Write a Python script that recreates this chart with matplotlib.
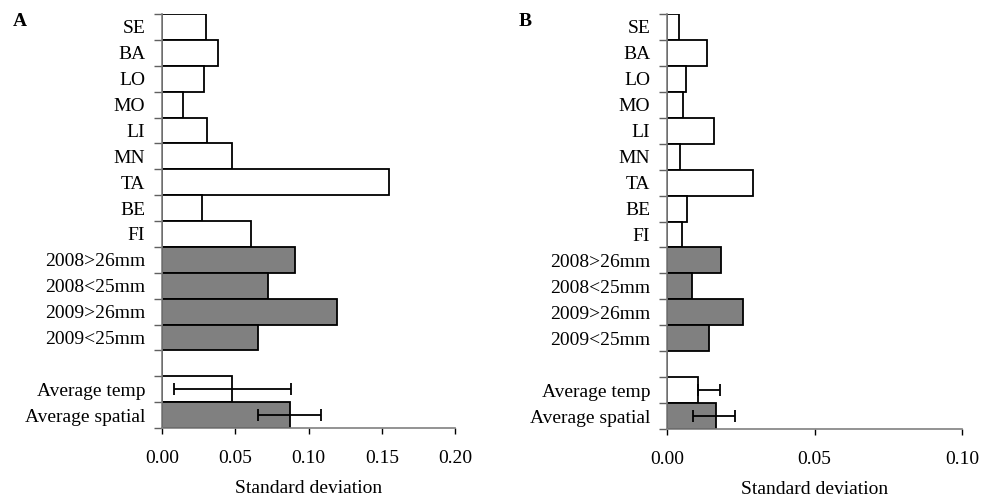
import numpy as np
import matplotlib
matplotlib.use("Agg")
import matplotlib.pyplot as plt

plt.rcParams['font.family'] = ['Liberation Serif', 'DejaVu Serif']

categories = ["SE", "BA", "LO", "MO", "LI", "MN", "TA", "BE", "FI",
              "2008>26mm", "2008<25mm", "2009>26mm", "2009<25mm",
              "", "Average temp", "Average spatial"]
kind = ["w"] * 9 + ["g"] * 4 + [None] + ["w", "g"]

# standard deviations, panel A
sd_a = [0.030, 0.038, 0.029, 0.014, 0.031, 0.048, 0.155, 0.0275, 0.061,
        0.091, 0.0725, 0.1195, 0.0655, np.nan, 0.048, 0.0875]
err_a = {14: (0.040, 0.040), 15: (0.0220, 0.0210)}

# standard deviations, panel B
sd_b = [0.004, 0.0137, 0.0063, 0.0055, 0.0161, 0.0044, 0.0291, 0.0068, 0.0051,
        0.0184, 0.0085, 0.0258, 0.0144, np.nan, 0.0104, 0.0166]
err_b = {14: (0.0, 0.0074), 15: (0.0078, 0.0064)}

fig = plt.figure(figsize=(9.81, 5.0), dpi=100)
ax_a = fig.add_axes([162 / 981, 72 / 500, 293 / 981, 414 / 500])
ax_b = fig.add_axes([667 / 981, 71 / 500, 295 / 981, 415 / 500])

FS = 14


def draw(ax, vals, errs, xmax, xticks):
    y = np.arange(len(categories))
    colors = ["#808080" if k == "g" else "white" for k in kind]
    ax.barh(y, np.nan_to_num(vals), height=1.0, color=colors,
            edgecolor="black", linewidth=1.3, zorder=2)
    for i, (lo, hi) in errs.items():
        ax.errorbar(vals[i], i, xerr=[[lo], [hi]], fmt="none", ecolor="black",
                    elinewidth=1.3, capsize=4, capthick=1.3, zorder=3)
    ax.set_ylim(len(categories) - 0.5, -0.5)
    ax.set_xlim(0, xmax)
    ax.set_yticks(np.arange(-0.5, len(categories)), labels=[])
    ax.set_yticks(y, labels=categories, minor=True)
    ax.tick_params(axis="y", which="major", length=6, width=1, color="#606060")
    ax.tick_params(axis="y", which="minor", length=0, pad=12, labelsize=FS)
    ax.set_xticks(xticks, labels=[f"{t:.2f}" for t in xticks])
    ax.tick_params(axis="x", length=4, width=1, color="black", pad=12, labelsize=FS)
    for s in ["top", "right"]:
        ax.spines[s].set_visible(False)
    ax.spines["left"].set_color("#808080")
    ax.spines["bottom"].set_color("#808080")
    ax.spines["left"].set_linewidth(1.2)
    ax.spines["bottom"].set_linewidth(1.2)
    ax.set_xlabel("Standard deviation", fontsize=FS, labelpad=9)


draw(ax_a, sd_a, err_a, 0.20, [0.00, 0.05, 0.10, 0.15, 0.20])
draw(ax_b, sd_b, err_b, 0.10, [0.00, 0.05, 0.10])

fig.text(13 / 981, 1 - 13 / 500, "A", fontsize=14, fontweight="bold", va="top", ha="left")
fig.text(519 / 981, 1 - 13 / 500, "B", fontsize=14, fontweight="bold", va="top", ha="left")

fig.savefig("out.png", dpi=100)
